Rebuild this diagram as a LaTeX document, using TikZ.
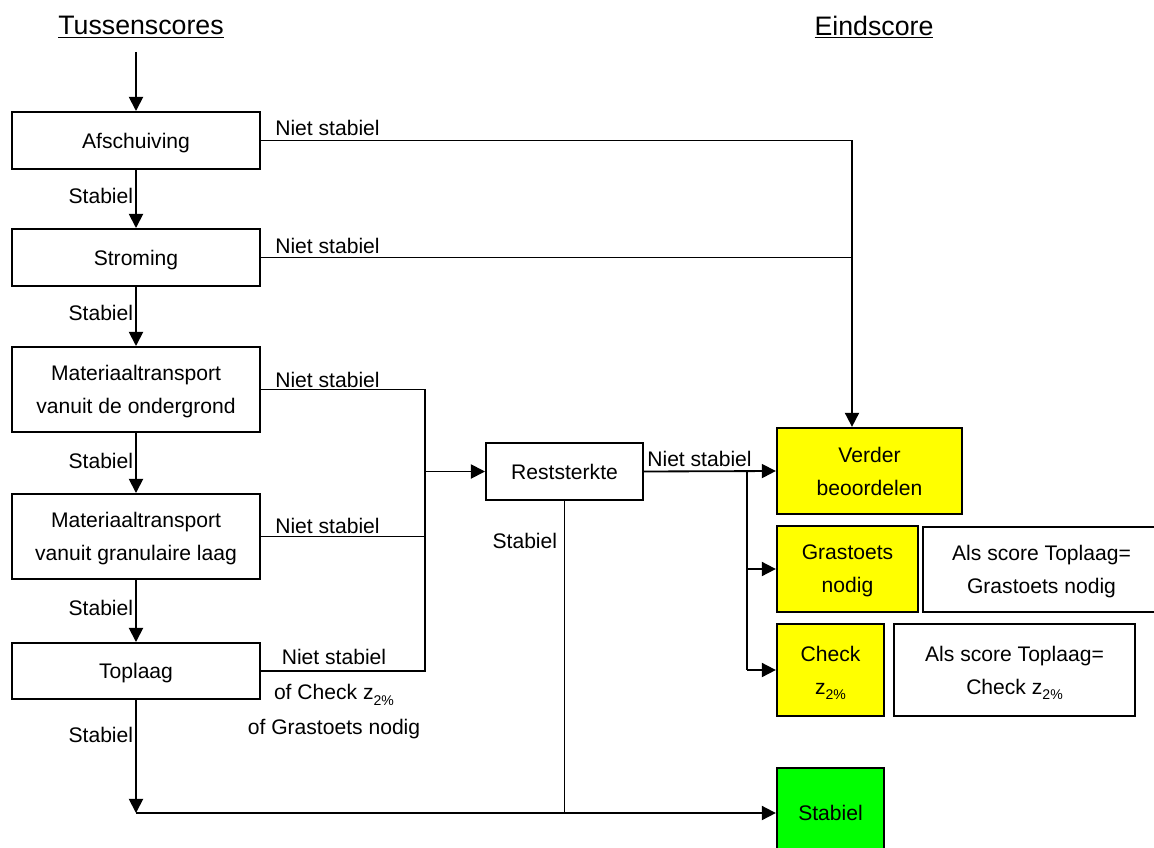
\documentclass[tikz,border=0pt]{standalone}
\usepackage{fontspec}
\setmainfont{Liberation Sans}
\usetikzlibrary{arrows.meta}

\definecolor{geel}{RGB}{255,255,0}
\definecolor{groen}{RGB}{0,255,0}
\newcommand{\ztwee}{z\raisebox{-4pt}{\fontsize{10}{10}\selectfont 2\%}}

\begin{document}
\begin{tikzpicture}[x=0.025cm, y=-0.025cm,
    >={Triangle[length=10pt,width=10pt]},
    every path/.style={line width=1.3pt},
    every node/.style={font=\fontsize{15}{23.5}\selectfont},
    toets/.style={draw, line width=1.4pt, align=center, text depth=-4pt, minimum width=6.2cm},
    uitslag/.style={draw, line width=1.6pt, align=center, text depth=-3pt},
    label/.style={inner sep=0pt}]
    \useasboundingbox (0,0) rectangle (1154,847);

    % kopjes
    \node[label, font=\fontsize{19}{22}\selectfont] (tus) at (141,27) {\underline{Tussenscores}};
    \node[label, font=\fontsize{19}{22}\selectfont] (eind) at (874,27) {\underline{Eindscore}};

    % tussenscores
    \node[toets, minimum height=1.425cm] (afs) at (136,140.5) {Afschuiving};
    \node[toets, minimum height=1.425cm] (str) at (136,257.5) {Stroming};
    \node[toets, minimum height=2.125cm] (mat1) at (136,389.5) {Materiaaltransport\\vanuit de ondergrond};
    \node[toets, minimum height=2.125cm] (mat2) at (136,536.5) {Materiaaltransport\\vanuit granulaire laag};
    \node[toets, minimum height=1.4cm] (top) at (136,671) {Toplaag};
    \node[toets, minimum width=3.925cm, minimum height=1.425cm] (rest) at (564.5,471.5) {Reststerkte};

    % eindscores
    \node[uitslag, fill=geel, minimum width=4.625cm, minimum height=2.15cm] (verder) at (869.5,471) {Verder\\beoordelen};
    \node[uitslag, fill=geel, minimum width=3.525cm, minimum height=2.15cm] (gras) at (847.5,569) {Grastoets\\nodig};
    \node[uitslag, minimum width=5.925cm, minimum height=2.125cm] (als1) at (1041.5,569.5) {Als score Toplaag=\\Grastoets nodig};
    \node[uitslag, fill=geel, minimum width=2.675cm, minimum height=2.3cm] (check) at (830.5,670) {Check\\\ztwee};
    \node[uitslag, minimum width=6.025cm, minimum height=2.3cm] (als2) at (1014.5,670) {Als score Toplaag=\\Check \ztwee};
    \node[uitslag, fill=groen, minimum width=2.675cm, minimum height=2.25cm] (stab) at (830.5,813) {Stabiel};

    % knooppunten
    \coordinate (begin) at (136,52);
    \coordinate (j1) at (852,140.5);
    \coordinate (j2) at (425,471.5);
    \coordinate (j3) at (747,471.5);
    \coordinate (j4) at (136,813);

    % stabiel
    \draw[->] (begin) -- (afs);
    \draw[->] (afs) -- (str);
    \draw[->] (str) -- (mat1);
    \draw[->] (mat1) -- (mat2);
    \draw[->] (mat2) -- (top);
    \draw[->] (top) -- (j4);
    \draw[->] (j4) -- (stab.west);
    \draw (rest.south) -- (rest.south |- j4);

    % niet stabiel
    \draw (afs.east) -- (j1);
    \draw (str.east) -- (str.east -| j1);
    \draw[->] (j1) -- (j1 |- verder.north);
    \draw (mat1.east) -- (mat1.east -| j2) -- (top.east -| j2) -- (top.east);
    \draw (mat2.east) -- (mat2.east -| j2);
    \draw[->] (j2) -- (rest.west);
    \draw[->] (rest.east) -- (verder.west);
    \draw (j3) -- (j3 |- check.west);
    \draw[->] (j3 |- gras.west) -- (gras.west);
    \draw[->] (j3 |- check.west) -- (check.west);

    % labels
    \node[label, anchor=east] (s1) at (134,196) {Stabiel};
    \node[label, anchor=east] (s2) at (134,313) {Stabiel};
    \node[label, anchor=east] (s3) at (134,461) {Stabiel};
    \node[label, anchor=east] (s4) at (134,608) {Stabiel};
    \node[label, anchor=east] (s5) at (134,735) {Stabiel};
    \node[label, anchor=east] (s6) at (558,541) {Stabiel};
    \node[label] (n1) at (327.5,128) {Niet stabiel};
    \node[label] (n2) at (327.5,246) {Niet stabiel};
    \node[label] (n3) at (327.5,380) {Niet stabiel};
    \node[label] (n4) at (327.5,526) {Niet stabiel};
    \node[label, align=center, font=\fontsize{15}{25}\selectfont] (n5) at (334,694) {Niet stabiel\\of Check \ztwee\\of Grastoets nodig};
    \node[label] (n6) at (699.5,459) {Niet stabiel};
\end{tikzpicture}
\end{document}
